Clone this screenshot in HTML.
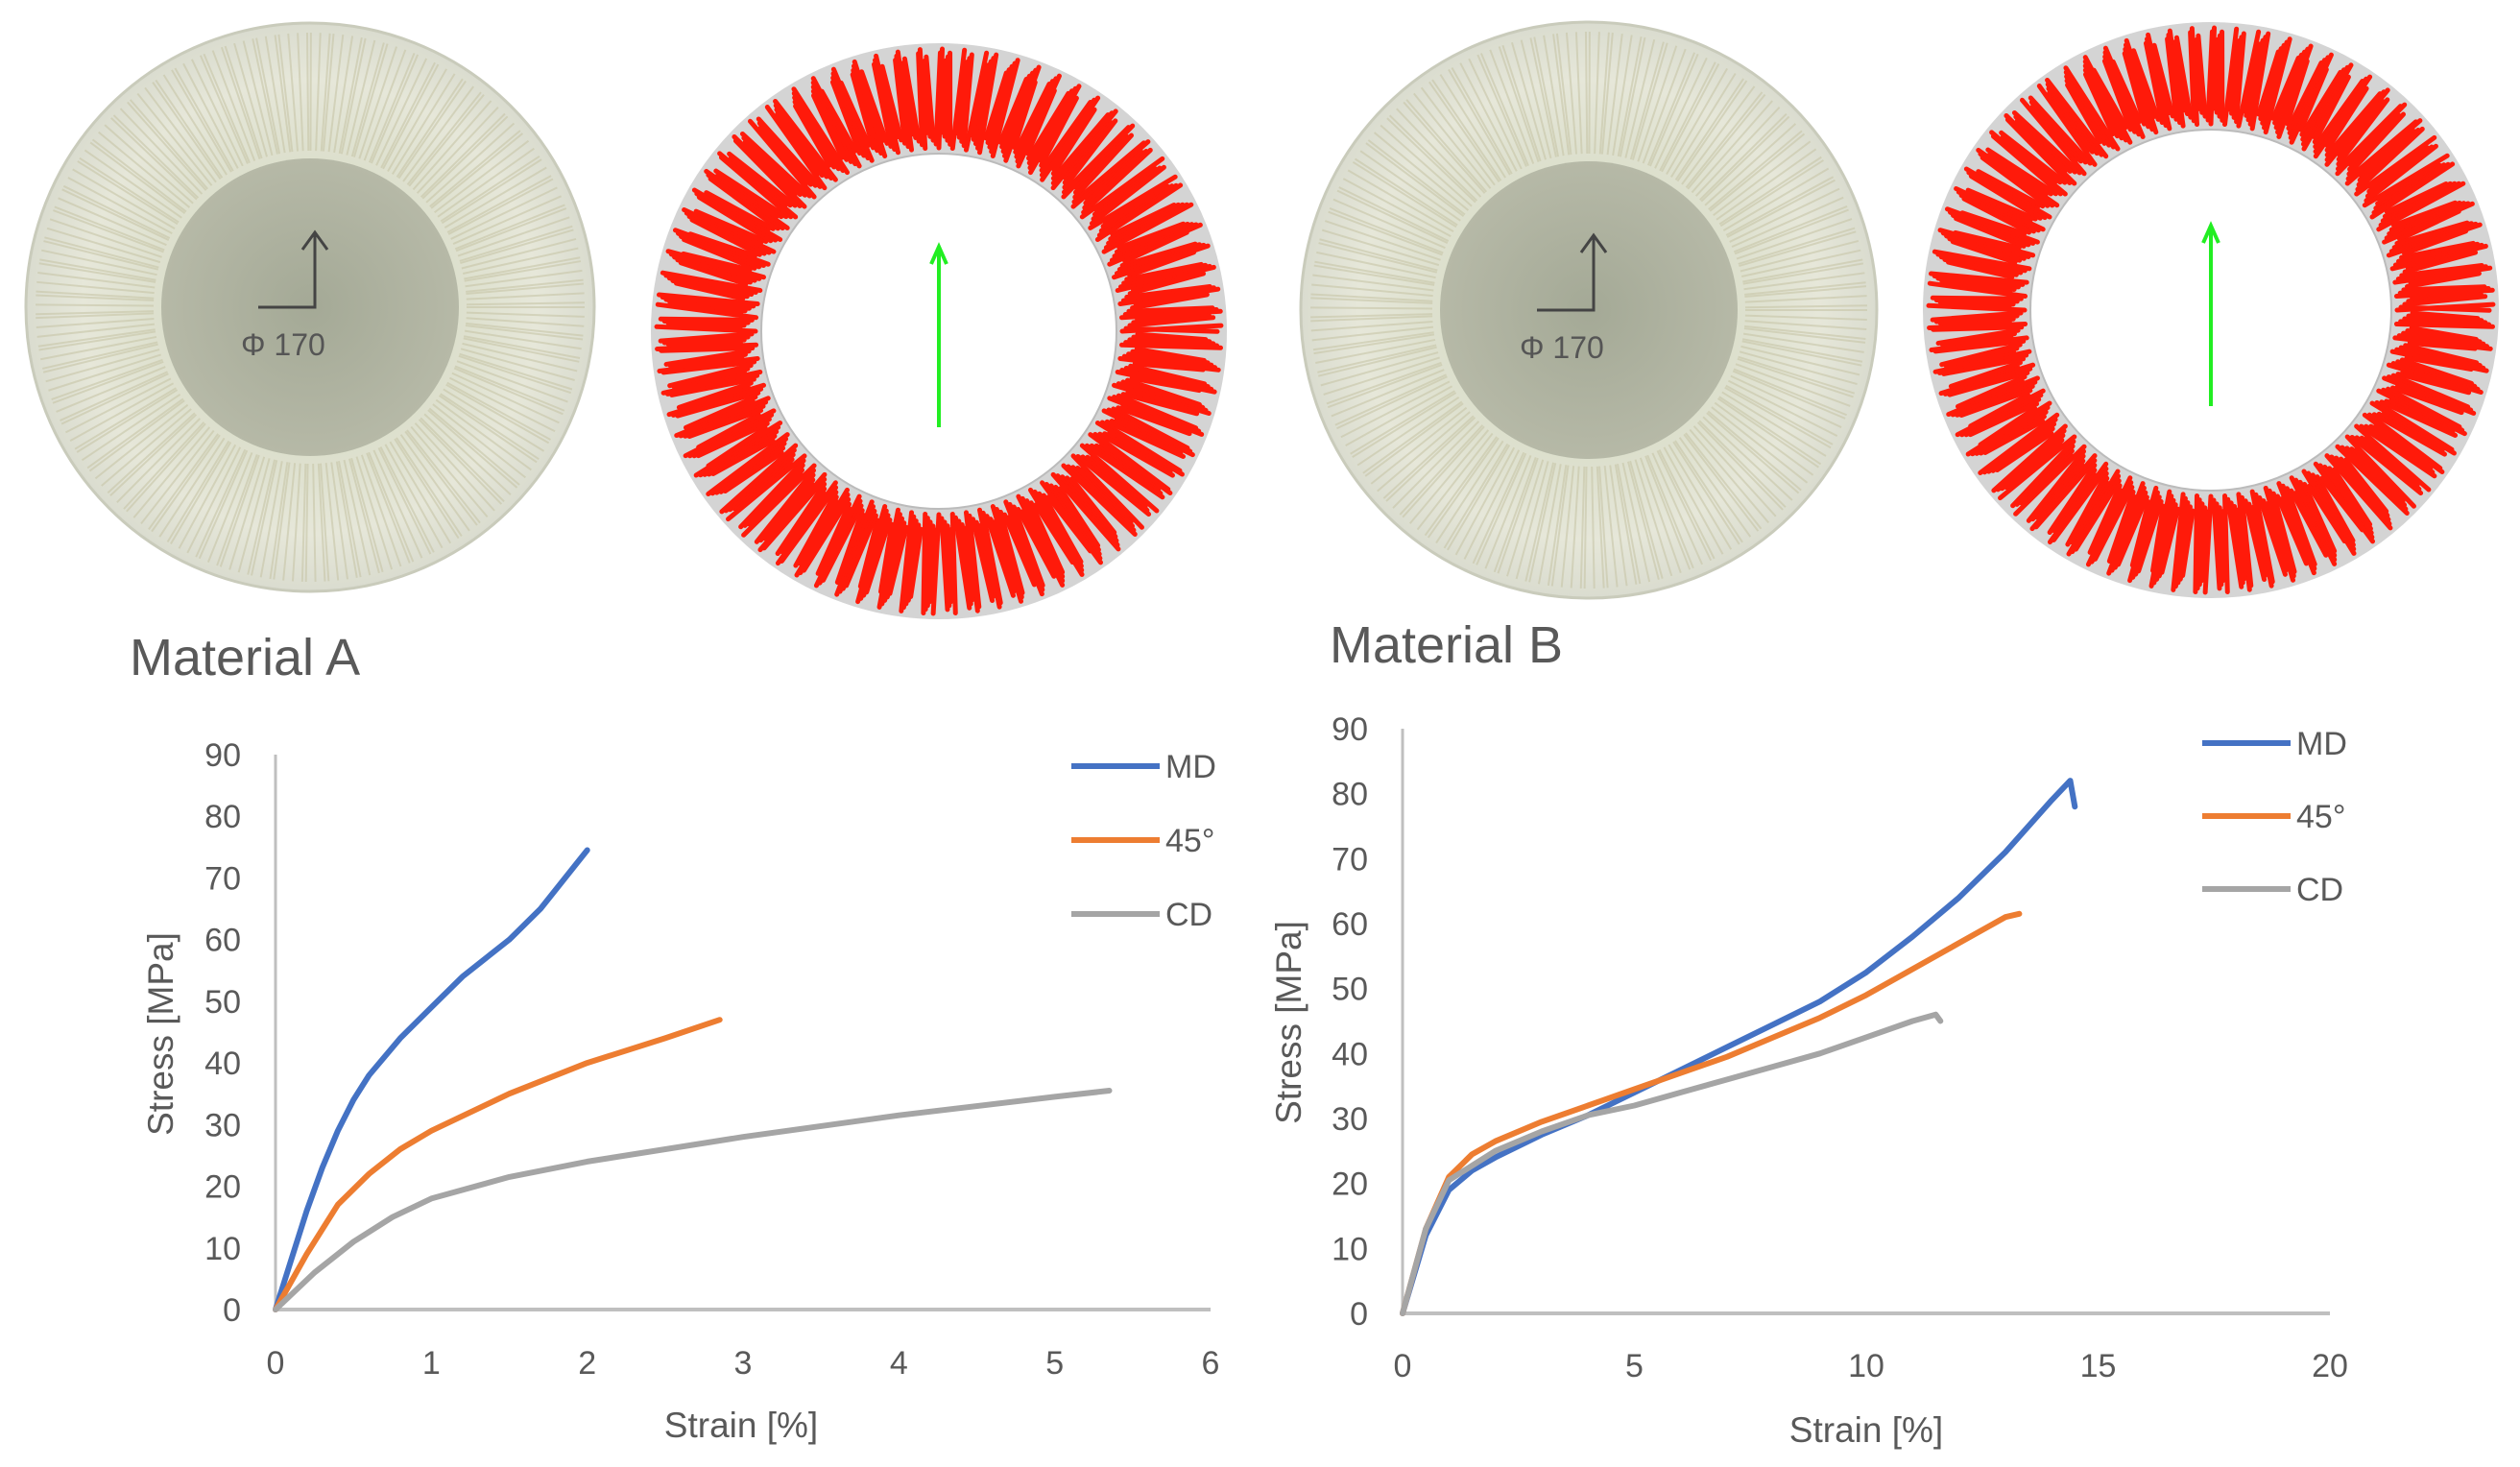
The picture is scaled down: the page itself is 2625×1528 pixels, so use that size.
<!DOCTYPE html>
<html><head><meta charset="utf-8"><style>
body{margin:0;background:#fff;}
svg{display:block;font-family:"Liberation Sans",sans-serif;}
</style></head><body>
<svg id="root" width="2625" height="1528" viewBox="0 0 2625 1528">
<defs>
<radialGradient id="photo" cx="50%" cy="50%" r="50%">
<stop offset="0.5" stop-color="#dcdfcc"/><stop offset="0.8" stop-color="#e6e7d9"/><stop offset="1" stop-color="#dadccf"/>
</radialGradient>
<radialGradient id="inner" cx="50%" cy="50%" r="50%">
<stop offset="0" stop-color="#a4a996"/><stop offset="1" stop-color="#b6b9a7"/>
</radialGradient>
</defs>
<g id="photos"></g>
<text x="135" y="703" font-size="54" fill="#595959">Material A</text>
<text x="1385" y="690" font-size="54" fill="#595959">Material B</text>
<g id="chartA"></g>
<g id="chartB"></g>
</svg>
<script>
const NS="http://www.w3.org/2000/svg";
function mk(tag,attrs,parent){const e=document.createElementNS(NS,tag);for(const k in attrs)e.setAttribute(k,attrs[k]);parent.appendChild(e);return e;}

// ---- chart data ----
const seriesNames=["MD","45°","CD"];
const seriesColors=["#4472c4","#ed7d31","#a5a5a5"];
const yTicks=[0,10,20,30,40,50,60,70,80,90];
const xTicksA=[0,1,2,3,4,5,6];
const xTicksB=[0,5,10,15,20];
const aMD_x=[0,0.1,0.2,0.3,0.4,0.5,0.6,0.8,1,1.2,1.5,1.7,2];
const aMD_y=[0,8,16,23,29,34,38,44,49,54,60,65,74.5];
const a45_x=[0,0.2,0.4,0.6,0.8,1,1.5,2,2.5,2.85];
const a45_y=[0,9,17,22,26,29,35,40,44,47];
const aCD_x=[0,0.25,0.5,0.75,1,1.5,2,3,4,5,5.35];
const aCD_y=[0,6,11,15,18,21.5,24,28,31.5,34.5,35.5];
const bMD_x=[0,0.5,1,1.5,2,3,4,5,6,7,8,9,10,11,12,13,14,14.4,14.5];
const bMD_y=[0,12,19,22,24,27.5,30.5,34,37.5,41,44.5,48,52.5,58,64,71,79,82,78];
const b45_x=[0,0.5,1,1.5,2,3,4,5,6,7,8,9,10,11,12,13,13.3];
const b45_y=[0,13,21,24.5,26.5,29.5,32,34.5,37,39.5,42.5,45.5,49,53,57,61,61.5];
const bCD_x=[0,0.5,1,2,3,4,5,6,7,8,9,10,11,11.5,11.6];
const bCD_y=[0,13,20.5,25,28,30.5,32,34,36,38,40,42.5,45,46,45];

function chart(g,cfg){
  const sx=v=>cfg.x0+(v-cfg.xmin)/(cfg.xmax-cfg.xmin)*(cfg.x1-cfg.x0);
  const sy=v=>cfg.y0-(v/90)*(cfg.y0-cfg.y1);
  let l=mk('line',{x1:cfg.x0,y1:sy(0),x2:cfg.x1,y2:sy(0),stroke:'#bfbfbf','stroke-width':4},g);
  
  
  l=mk('line',{x1:cfg.x0,y1:sy(0),x2:cfg.x0,y2:sy(90),stroke:'#bfbfbf','stroke-width':3},g);
  
  
  yTicks.forEach(v=>{const t=mk('text',{x:cfg.x0-36,y:sy(v)+12,'font-size':34,fill:'#595959','text-anchor':'end'},g);t.textContent=v;
    
    });
  cfg.xt.forEach(v=>{const t=mk('text',{x:sx(v),y:cfg.xly,'font-size':34,fill:'#595959','text-anchor':'middle'},g);t.textContent=v;
    
    });
  let t=mk('text',{x:cfg.xtx,y:cfg.xty,'font-size':37,fill:'#595959','text-anchor':'middle'},g);t.textContent='Strain [%]';
  
  
  t=mk('text',{x:0,y:0,'font-size':37,fill:'#595959','text-anchor':'middle',transform:`translate(${cfg.ytx},${cfg.yty}) rotate(-90)`},g);t.textContent='Stress [MPa]';
  
  
  cfg.series.forEach((s,i)=>{
    const d=s[0].map((x,j)=>(j?'L':'M')+sx(x).toFixed(1)+','+sy(s[1][j]).toFixed(1)).join('');
    const p=mk('path',{d,fill:'none',stroke:seriesColors[i],'stroke-width':6,'stroke-linejoin':'round','stroke-linecap':'round'},g);
    
    
    const ly=cfg.ly0+i*cfg.ldy;
    const ll=mk('line',{x1:cfg.lx,y1:ly,x2:cfg.lx+92,y2:ly,stroke:seriesColors[i],'stroke-width':6},g);
    
    
    const lt=mk('text',{x:cfg.lx+98,y:ly+12,'font-size':34,fill:'#595959'},g);lt.textContent=seriesNames[i];
    
    
  });
}
chart(document.getElementById('chartA'),{x0:287,x1:1261,xmin:0,xmax:6,y0:1364,y1:786,xt:xTicksA,xly:1431,xtx:772,xty:1497,ytx:180,yty:1077,
  series:[[aMD_x,aMD_y],[a45_x,a45_y],[aCD_x,aCD_y]],lx:1116,ly0:798,ldy:77});
chart(document.getElementById('chartB'),{x0:1461,x1:2427,xmin:0,xmax:20,y0:1368,y1:759,xt:xTicksB,xly:1434,xtx:1944,xty:1502,ytx:1355,yty:1065,
  series:[[bMD_x,bMD_y],[b45_x,b45_y],[bCD_x,bCD_y]],lx:2294,ly0:774,ldy:76});

// ---- decorative photos ----
const ph=document.getElementById('photos');
function photo(cx,cy,R,r,name){
  const g=mk('g',{},ph);
  
  
  mk('circle',{cx,cy,r:R,fill:'url(#photo)',stroke:'#c9cbbb','stroke-width':3},g);
  for(let i=0;i<220;i++){const a=i/220*Math.PI*2+((i*37)%7)*0.003;
    mk('line',{x1:cx+Math.cos(a)*(r+8),y1:cy+Math.sin(a)*(r+8),x2:cx+Math.cos(a)*(R-10),y2:cy+Math.sin(a)*(R-10),stroke:'#c8c6a8','stroke-width':2,opacity:0.6},g);}
  mk('circle',{cx,cy,r,fill:'url(#inner)'},g);
  mk('path',{d:`M${cx-54},${cy}H${cx+5}V${cy-76}M${cx-8},${cy-60}L${cx+5},${cy-78}L${cx+18},${cy-60}`,fill:'none',stroke:'#444','stroke-width':3},g);
  const t=mk('text',{x:cx-72,y:cy+50,'font-size':32,fill:'#555'},g);t.textContent='Φ  170';
}
function ring(cx,cy,R,r,name){
  const g=mk('g',{},ph);
  
  
  mk('circle',{cx,cy,r:(R+r)/2,fill:'none',stroke:'#d4d4d4','stroke-width':R-r},g);
  const n=420;
  for(let i=0;i<n;i++){const a=i/n*Math.PI*2;const w=((i*53)%11-5)*0.004;const s=((i*29)%5)*4;
    mk('line',{x1:cx+Math.cos(a)*(r+6+s),y1:cy+Math.sin(a)*(r+6+s),x2:cx+Math.cos(a+w)*(R-6-s),y2:cy+Math.sin(a+w)*(R-6-s),stroke:'#ff1a0a','stroke-width':5,'stroke-linecap':'round'},g);}
  mk('circle',{cx,cy,r,fill:'#fff',stroke:'#bbb','stroke-width':2},g);
  mk('path',{d:`M${cx},${cy+100}V${cy-85}M${cx-8},${cy-70}L${cx},${cy-88}L${cx+8},${cy-70}`,fill:'none',stroke:'#22ee22','stroke-width':4},g);
}
photo(323,320,296,155,'material-a-photo');
ring(978,345,300,185,'material-a-crease-map');
photo(1655,323,300,155,'material-b-photo');
ring(2303,323,300,188,'material-b-crease-map');
</script>
</body></html>
